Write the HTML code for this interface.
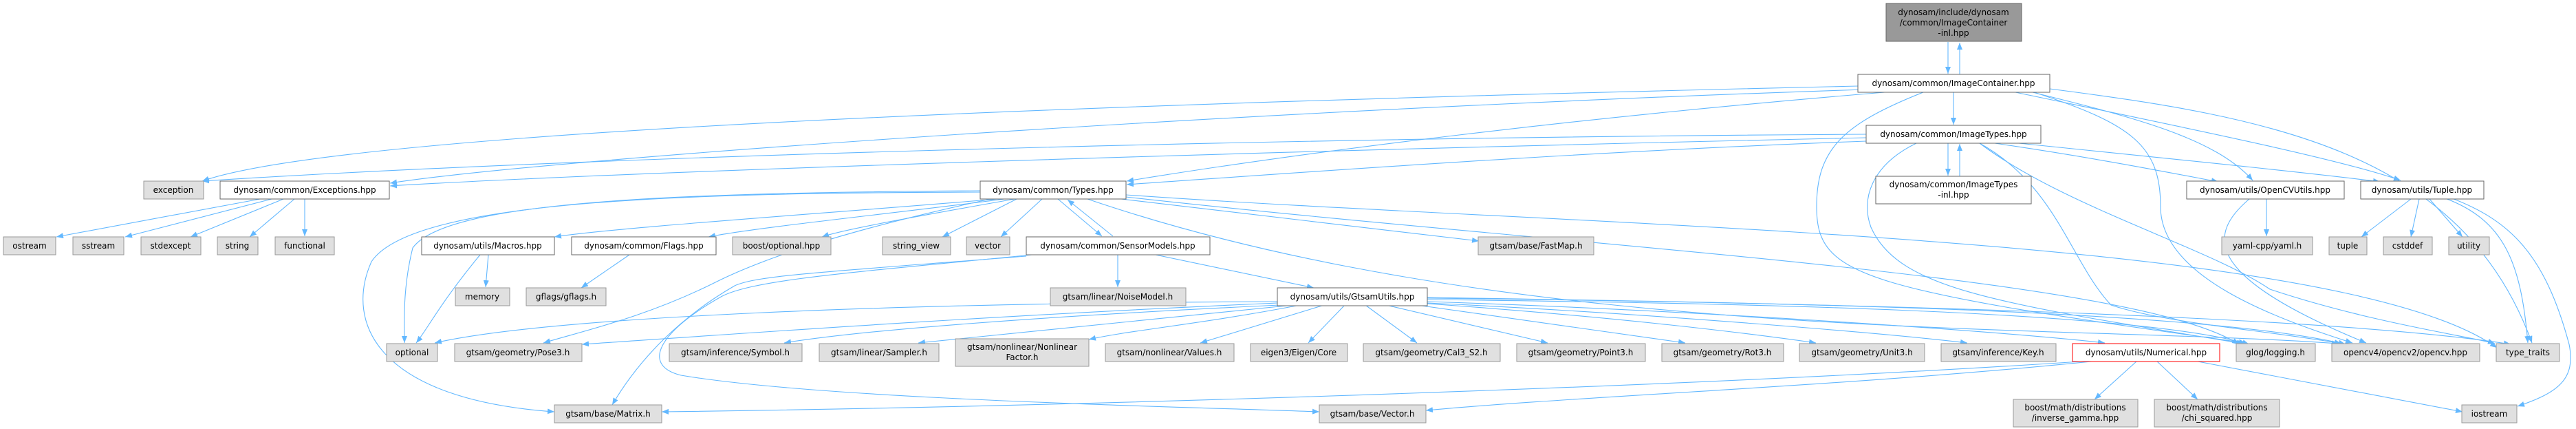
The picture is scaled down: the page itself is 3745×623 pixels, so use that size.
<!DOCTYPE html>
<html><head><meta charset="utf-8"><style>
html,body{margin:0;padding:0;background:#fff}
svg{display:block}
text{font-family:"DejaVu Sans","Liberation Sans",sans-serif;font-size:12px;fill:#000;text-anchor:middle}
.g{fill:#e0e0e0;stroke:#999}
.w{fill:#fff;stroke:#666}
.e{fill:none;stroke:#63b8ff;stroke-width:1.1}
</style></head><body>
<svg width="3745" height="623" viewBox="0 0 3745 623" xmlns="http://www.w3.org/2000/svg">
<defs><marker id="a" viewBox="0 0 10 8" refX="10" refY="4" markerWidth="10" markerHeight="8" markerUnits="userSpaceOnUse" orient="auto"><path d="M0,0L10,4L0,8z" fill="#63b8ff"/></marker></defs>
<g class="e" marker-end="url(#a)">
<path d="M2832,61 L2832,107"/>
<path d="M2849,108 L2849,62"/>
<path d="M2701,125 C1600,150 500,190 294,263"/>
<path d="M2710,130 C1800,160 800,230 567,266"/>
<path d="M2740,134 C2300,170 1900,220 1638,263"/>
<path d="M2840,134 L2840,181"/>
<path d="M2955,134 C3100,170 3220,200 3275,262"/>
<path d="M2930,134 C3150,180 3400,230 3490,262"/>
<path d="M2980,129 C3300,170 3580,220 3681,498"/>
<path d="M2796,134 C2680,180 2641,216 2641,300 C2641,400 2700,420 3265,498"/>
<path d="M2957,134 C3100,180 3141,212 3141,300 C3141,400 3300,460 3420,498"/>
<path d="M2713,195 C1800,200 800,230 294,263"/>
<path d="M2713,200 C1800,220 900,250 567,270"/>
<path d="M2713,205 C2300,220 1900,250 1638,268"/>
<path d="M2832,208 L2832,255"/>
<path d="M2849,256 L2849,209"/>
<path d="M2900,208 C3050,230 3150,250 3225,264"/>
<path d="M2935,208 C3150,230 3350,250 3460,264"/>
<path d="M2786,208 C2720,240 2705,290 2720,330 C2760,420 2900,440 3262,499"/>
<path d="M2878,208 C2990,270 3010,380 3069,443 C3150,470 3300,480 3404,499"/>
<path d="M2878,208 C3000,300 3212,360 3300,420 C3450,470 3600,490 3627,499"/>
<path d="M1425,277 C1000,280 650,290 600,360 C585,420 588,470 588,498"/>
<path d="M1425,279 C1000,280 600,290 540,380 C500,470 550,580 806,598"/>
<path d="M1450,289 C1200,310 900,330 806,344"/>
<path d="M1460,289 C1300,310 1100,330 1030,344"/>
<path d="M1475,289 C1300,320 1220,335 1195,344"/>
<path d="M1440,289 C1250,330 1120,370 1040,410 C940,460 850,480 790,498"/>
<path d="M1478,289 L1370,344"/>
<path d="M1515,289 L1455,344"/>
<path d="M1538,289 L1602,343"/>
<path d="M1618,343 L1552,290"/>
<path d="M1630,289 L2150,350"/>
<path d="M1581,289 C2200,500 3000,470 3400,499"/>
<path d="M1637,283 C2300,330 3400,340 3630,505"/>
<path d="M1637,286 C2300,360 3100,400 3255,500"/>
<path d="M1625,370 L1625,417"/>
<path d="M1680,370 L1910,418"/>
<path d="M1492,372 C1200,395 1100,400 1068,415 C990,460 930,520 890,588"/>
<path d="M1500,370 C1250,395 1100,405 1050,430 C960,480 930,530 990,545 C1200,580 1700,590 1918,598"/>
<path d="M1857,438 C1300,440 800,460 632,498"/>
<path d="M1857,440 C1400,460 1000,490 846,500"/>
<path d="M1860,443 C1500,460 1250,480 1140,498"/>
<path d="M1880,443 C1600,470 1400,490 1335,498"/>
<path d="M1890,443 C1750,470 1640,480 1583,493"/>
<path d="M1925,443 L1745,498"/>
<path d="M1955,443 L1902,498"/>
<path d="M1985,443 L2060,498"/>
<path d="M2015,443 L2250,498"/>
<path d="M2060,443 C2250,470 2400,490 2450,498"/>
<path d="M2075,441 C2350,460 2550,485 2640,498"/>
<path d="M2075,440 C2400,455 2750,485 2860,498"/>
<path d="M2075,438 C2450,450 2900,480 3060,498"/>
<path d="M2075,435 C2500,440 3100,450 3270,500"/>
<path d="M2075,432 C2600,440 3200,450 3410,500"/>
<path d="M2075,433 C2700,440 3400,460 3650,500"/>
<path d="M3040,524 C2500,560 1600,590 962,598"/>
<path d="M3050,524 C2700,560 2300,575 2073,596"/>
<path d="M3107,524 L3045,580"/>
<path d="M3135,524 L3195,580"/>
<path d="M3190,524 L3580,598"/>
<path d="M3295,289 L3295,343"/>
<path d="M3270,289 C3210,340 3200,400 3440,498"/>
<path d="M3505,289 L3433,344"/>
<path d="M3517,289 L3505,344"/>
<path d="M3532,289 L3580,344"/>
<path d="M3555,288 C3640,320 3665,380 3675,498"/>
<path d="M3562,287 C3650,320 3700,370 3735,500 C3745,550 3720,570 3660,590"/>
<path d="M710,370 L706,417"/>
<path d="M698,370 C640,440 620,480 605,498"/>
<path d="M915,370 L845,418"/>
<path d="M378,289 L82,344"/>
<path d="M395,289 L182,344"/>
<path d="M412,289 L277,344"/>
<path d="M428,289 L363,344"/>
<path d="M443,289 L443,343"/>
</g>
<g>
<rect x="2742" y="5" width="197" height="55" fill="#999" stroke="#666"/>
<text x="2840" y="22">dynosam/include/dynosam</text><text x="2840" y="37">/common/ImageContainer</text><text x="2840" y="52">-inl.hpp</text>
<rect class="w" x="2701" y="108" width="279" height="26"/><text x="2840" y="125">dynosam/common/ImageContainer.hpp</text>
<rect class="w" x="2713" y="182" width="254" height="26"/><text x="2840" y="199">dynosam/common/ImageTypes.hpp</text>
<rect class="w" x="2727" y="256" width="226" height="40"/><text x="2840" y="272">dynosam/common/ImageTypes</text><text x="2840" y="287">-inl.hpp</text>
<rect class="w" x="1425" y="263" width="212" height="26"/><text x="1531" y="280">dynosam/common/Types.hpp</text>
<rect class="w" x="320" y="263" width="246" height="26"/><text x="443" y="280">dynosam/common/Exceptions.hpp</text>
<rect class="g" x="209" y="263" width="87" height="26"/><text x="252" y="280">exception</text>
<rect class="w" x="3179" y="263" width="229" height="26"/><text x="3293" y="280">dynosam/utils/OpenCVUtils.hpp</text>
<rect class="w" x="3432" y="263" width="179" height="26"/><text x="3521" y="280">dynosam/utils/Tuple.hpp</text>

<rect class="g" x="5" y="344" width="76" height="26"/><text x="43" y="361">ostream</text>
<rect class="g" x="106" y="344" width="74" height="26"/><text x="143" y="361">sstream</text>
<rect class="g" x="205" y="344" width="87" height="26"/><text x="248" y="361">stdexcept</text>
<rect class="g" x="316" y="344" width="59" height="26"/><text x="345" y="361">string</text>
<rect class="g" x="400" y="344" width="86" height="26"/><text x="443" y="361">functional</text>
<rect class="w" x="613" y="344" width="193" height="26"/><text x="709" y="361">dynosam/utils/Macros.hpp</text>
<rect class="w" x="831" y="344" width="210" height="26"/><text x="936" y="361">dynosam/common/Flags.hpp</text>
<rect class="g" x="1065" y="344" width="143" height="26"/><text x="1136" y="361">boost/optional.hpp</text>
<rect class="g" x="1283" y="344" width="99" height="26"/><text x="1332" y="361">string_view</text>
<rect class="g" x="1405" y="344" width="63" height="26"/><text x="1436" y="361">vector</text>
<rect class="w" x="1492" y="344" width="267" height="26"/><text x="1625" y="361">dynosam/common/SensorModels.hpp</text>
<rect class="g" x="2149" y="344" width="168" height="26"/><text x="2233" y="361">gtsam/base/FastMap.h</text>
<rect class="g" x="3230" y="344" width="132" height="26"/><text x="3296" y="361">yaml-cpp/yaml.h</text>
<rect class="g" x="3386" y="344" width="55" height="26"/><text x="3413" y="361">tuple</text>
<rect class="g" x="3465" y="344" width="71" height="26"/><text x="3500" y="361">cstddef</text>
<rect class="g" x="3560" y="344" width="59" height="26"/><text x="3589" y="361">utility</text>

<rect class="g" x="662" y="418" width="79" height="26"/><text x="701" y="435">memory</text>
<rect class="g" x="765" y="418" width="116" height="26"/><text x="823" y="435">gflags/gflags.h</text>
<rect class="g" x="1527" y="418" width="197" height="26"/><text x="1625" y="435">gtsam/linear/NoiseModel.h</text>
<rect class="w" x="1857" y="418" width="218" height="26"/><text x="1966" y="435">dynosam/utils/GtsamUtils.hpp</text>

<rect class="g" x="562" y="499" width="74" height="26"/><text x="599" y="516">optional</text>
<rect class="g" x="661" y="499" width="185" height="26"/><text x="753" y="516">gtsam/geometry/Pose3.h</text>
<rect class="g" x="973" y="499" width="193" height="26"/><text x="1069" y="516">gtsam/inference/Symbol.h</text>
<rect class="g" x="1191" y="499" width="174" height="26"/><text x="1278" y="516">gtsam/linear/Sampler.h</text>
<rect class="g" x="1389" y="492" width="194" height="40"/><text x="1486" y="508">gtsam/nonlinear/Nonlinear</text><text x="1486" y="523">Factor.h</text>
<rect class="g" x="1607" y="499" width="187" height="26"/><text x="1700" y="516">gtsam/nonlinear/Values.h</text>
<rect class="g" x="1818" y="499" width="141" height="26"/><text x="1888" y="516">eigen3/Eigen/Core</text>
<rect class="g" x="1982" y="499" width="199" height="26"/><text x="2081" y="516">gtsam/geometry/Cal3_S2.h</text>
<rect class="g" x="2205" y="499" width="187" height="26"/><text x="2298" y="516">gtsam/geometry/Point3.h</text>
<rect class="g" x="2416" y="499" width="177" height="26"/><text x="2504" y="516">gtsam/geometry/Rot3.h</text>
<rect class="g" x="2616" y="499" width="182" height="26"/><text x="2707" y="516">gtsam/geometry/Unit3.h</text>
<rect class="g" x="2822" y="499" width="167" height="26"/><text x="2905" y="516">gtsam/inference/Key.h</text>
<rect x="3013" y="499" width="214" height="26" fill="#fff" stroke="#f00"/><text x="3120" y="516">dynosam/utils/Numerical.hpp</text>
<rect class="g" x="3251" y="499" width="115" height="26"/><text x="3308" y="516">glog/logging.h</text>
<rect class="g" x="3390" y="499" width="215" height="26"/><text x="3497" y="516">opencv4/opencv2/opencv.hpp</text>
<rect class="g" x="3629" y="499" width="92" height="26"/><text x="3675" y="516">type_traits</text>

<rect class="g" x="806" y="588" width="156" height="26"/><text x="884" y="605">gtsam/base/Matrix.h</text>
<rect class="g" x="1918" y="588" width="155" height="26"/><text x="1995" y="605">gtsam/base/Vector.h</text>
<rect class="g" x="2927" y="580" width="181" height="40"/><text x="3017" y="596">boost/math/distributions</text><text x="3017" y="611">/inverse_gamma.hpp</text>
<rect class="g" x="3132" y="580" width="182" height="40"/><text x="3223" y="596">boost/math/distributions</text><text x="3223" y="611">/chi_squared.hpp</text>
<rect class="g" x="3579" y="588" width="80" height="26"/><text x="3619" y="605">iostream</text>
</g>
</svg>
</body></html>
